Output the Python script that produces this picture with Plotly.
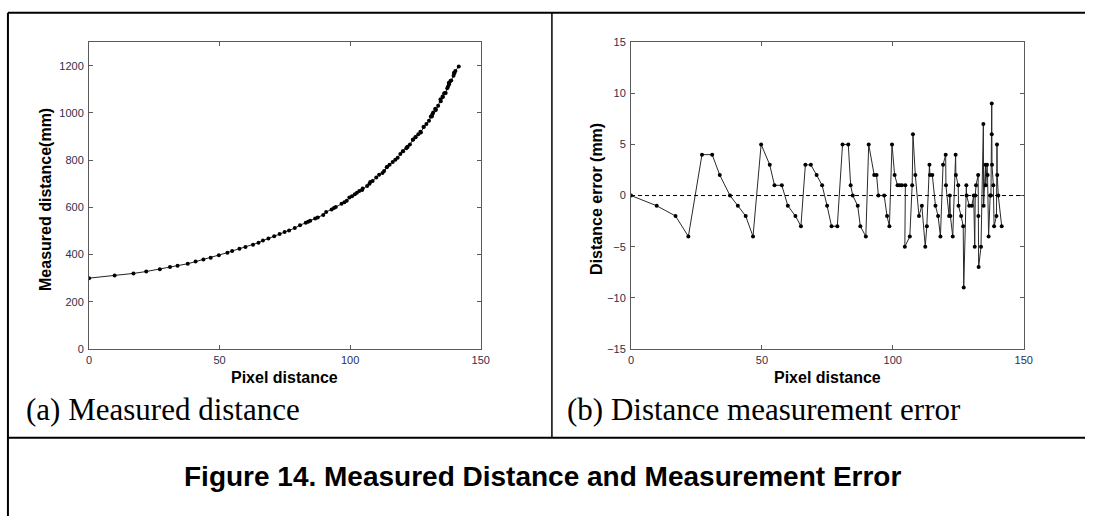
import plotly.graph_objects as go

# ---------------- data ----------------
pixel_distance = [0, 9.8, 17.0, 21.9, 27.1, 31.0, 33.9, 37.8, 40.8, 43.8,
                  46.6, 49.7, 53.0, 54.8, 57.6, 59.9, 62.8, 64.9, 66.6, 68.7,
                  70.9, 73.0, 74.9, 76.6, 78.8, 80.8, 83.0, 83.9, 84.7, 86.6,
                  87.6, 89.7, 90.8, 92.9, 93.8, 94.5, 96.7, 97.8, 98.7, 99.7,
                  100.7, 101.8, 102.6, 103.5, 104.8, 104.6, 106.5, 107.4, 107.7, 108.6,
                  110.0, 111.1, 112.4, 113.0, 114.0, 114.2, 115.1, 116.3, 117.3, 118.2,
                  119.2, 120.2, 120.3, 121.5, 121.8, 122.0, 122.9, 124.0, 124.1, 125.0,
                  125.1, 126.1, 126.9, 127.1, 128.1, 128.2, 129.2, 130.2, 130.9, 131.3,
                  131.5, 131.8, 132.6, 132.7, 132.8, 133.7, 134.6, 134.7, 135.4, 135.5,
                  136.0, 136.2, 136.6, 137.2, 137.5, 137.8, 137.8, 137.9, 138.4, 138.7,
                  139.6, 139.8, 139.9, 140.3, 141.6]

measured_mm = [300, 311, 320, 328, 338, 347, 353, 361, 370, 379,
               386, 397, 408, 415, 424, 432, 442, 450, 459, 468,
               477, 487, 495, 502, 512, 524, 535, 539, 543, 553,
               557, 568, 580, 591, 597, 601, 615, 622, 628, 642,
               647, 655, 662, 669, 680, 674, 690, 700, 707, 712,
               726, 738, 746, 754, 770, 772, 781, 792, 802, 810,
               826, 838, 838, 850, 855, 857, 866, 886, 887, 897,
               898, 910, 920, 917, 940, 941, 953, 967, 985, 985,
               995, 1002, 1018, 1015, 1012, 1030, 1058, 1050, 1070, 1068,
               1082, 1084, 1085, 1105, 1112, 1128, 1124, 1122, 1135, 1138,
               1158, 1170, 1168, 1178, 1197]

error_mm = [0, -1, -2, -4, 4, 4, 2, 0, -1, -2,
            -4, 5, 3, 1, 1, -1, -2, -3, 3, 3,
            2, 1, -1, -3, -3, 5, 5, 1, 0, -1,
            -3, -4, 5, 2, 2, 0, 0, -2, -3, 5,
            2, 1, 1, 1, 1, -5, -4, 1, 6, 2,
            -2, -1, -5, -3, 3, 2, 2, -1, -2, -4,
            3, 4, 1, -2, 0, -2, -4, 4, 2, 1,
            -1, -2, -3, -9, 1, 0, -1, -1, 0, -5,
            0, 1, 2, -2, -7, -5, 7, -1, 3, 1,
            3, 2, -4, 0, 0, 9, 6, 3, 1, -3,
            -2, 5, 2, 0, -3]

x_ticks = [0, 50, 100, 150]
y1_ticks = [0, 200, 400, 600, 800, 1000, 1200]
y2_ticks = [-15, -10, -5, 0, 5, 10, 15]

# ---------------- layout helpers (pixel geometry) ----------------
W, H = 1094, 522


def fx(p):
    return p / W


def fy(p):
    return 1 - p / H


AX_COLOR = "#5a5a5a"
TICK_FONT = dict(family="Arial, Liberation Sans, sans-serif", size=11, color="#2e2e4e")
TITLE_FONT = dict(family="Arial, Liberation Sans, sans-serif", size=16, color="black")

fig = go.Figure()

fig.add_trace(go.Scatter(
    x=pixel_distance, y=measured_mm, mode="lines+markers",
    line=dict(color="#222222", width=1),
    marker=dict(color="black", size=4),
    xaxis="x", yaxis="y", showlegend=False, hoverinfo="skip"))

fig.add_trace(go.Scatter(
    x=pixel_distance, y=error_mm, mode="lines+markers",
    line=dict(color="#2a2a2a", width=1),
    marker=dict(color="black", size=4),
    xaxis="x2", yaxis="y2", showlegend=False, hoverinfo="skip"))

common_axis = dict(showgrid=False, zeroline=False, showline=True, mirror="ticks",
                   linecolor=AX_COLOR, linewidth=1, ticks="inside", ticklen=4,
                   tickcolor=AX_COLOR, tickwidth=1, tickfont=TICK_FONT)

fig.update_layout(
    width=W, height=H,
    margin=dict(l=0, r=0, t=0, b=0),
    paper_bgcolor="white", plot_bgcolor="white",
    xaxis=dict(domain=[fx(87), fx(483)], range=[0, 150], tickvals=x_ticks,
               anchor="y", ticklabelstandoff=1, **common_axis),
    yaxis=dict(domain=[fy(351), fy(37)], range=[0, 1300], tickvals=y1_ticks,
               anchor="x", ticklabelstandoff=2, **common_axis),
    xaxis2=dict(domain=[fx(635), fx(1032)], range=[0, 150], tickvals=x_ticks,
                anchor="y2", ticklabelstandoff=1, **common_axis),
    yaxis2=dict(domain=[fy(351), fy(37)], range=[-15, 15], tickvals=y2_ticks,
                anchor="x2", ticklabelstandoff=2, **common_axis),
)

# dashed zero reference line on the error plot
fig.add_shape(type="line", xref="x2 domain", yref="y2", x0=0, x1=1, y0=0, y1=0,
              line=dict(color="black", width=1, dash="4px,3px"))

# table borders
border = dict(color="black", width=2)
fig.add_shape(type="line", xref="paper", yref="paper", x0=fx(5), x1=1, y0=fy(7), y1=fy(7), line=border)
fig.add_shape(type="line", xref="paper", yref="paper", x0=fx(5), x1=fx(5), y0=fy(7), y1=0, line=border)
fig.add_shape(type="line", xref="paper", yref="paper", x0=fx(5), x1=1, y0=fy(442), y1=fy(442), line=border)
fig.add_shape(type="line", xref="paper", yref="paper", x0=fx(555), x1=fx(555), y0=fy(7), y1=fy(442),
              line=dict(color="black", width=1.5))

ann = []
# axis titles
ann.append(dict(text="<b>Pixel distance</b>", x=fx(285), y=fy(380), xref="paper", yref="paper",
                xanchor="center", yanchor="middle", showarrow=False, font=TITLE_FONT))
ann.append(dict(text="<b>Pixel distance</b>", x=fx(834), y=fy(380), xref="paper", yref="paper",
                xanchor="center", yanchor="middle", showarrow=False, font=TITLE_FONT))
ann.append(dict(text="<b>Measured distance(mm)</b>", x=fx(43), y=fy(198), xref="paper", yref="paper",
                xanchor="center", yanchor="middle", textangle=-90, showarrow=False, font=TITLE_FONT))
ann.append(dict(text="<b>Distance error (mm)</b>", x=fx(600), y=fy(197), xref="paper", yref="paper",
                xanchor="center", yanchor="middle", textangle=-90, showarrow=False, font=TITLE_FONT))
# sub-captions
SERIF = dict(family="Times New Roman, Liberation Serif, serif", size=31, color="black")
ann.append(dict(text="(a) Measured distance", x=fx(21), y=fy(413), xref="paper", yref="paper",
                xanchor="left", yanchor="middle", showarrow=False, font=SERIF))
ann.append(dict(text="(b) Distance measurement error", x=fx(568), y=fy(413), xref="paper", yref="paper",
                xanchor="left", yanchor="middle", showarrow=False, font=SERIF))
# figure caption
ann.append(dict(text="<b>Figure 14. Measured Distance and Measurement Error</b>", x=fx(545), y=fy(482),
                xref="paper", yref="paper", xanchor="center", yanchor="middle", showarrow=False,
                font=dict(family="Arial, Liberation Sans, sans-serif", size=28, color="black")))

fig.update_layout(annotations=ann)

fig.write_html("out.html", config={"displayModeBar": False},
               post_script="document.body.style.margin='0';document.body.style.overflow='hidden';")
